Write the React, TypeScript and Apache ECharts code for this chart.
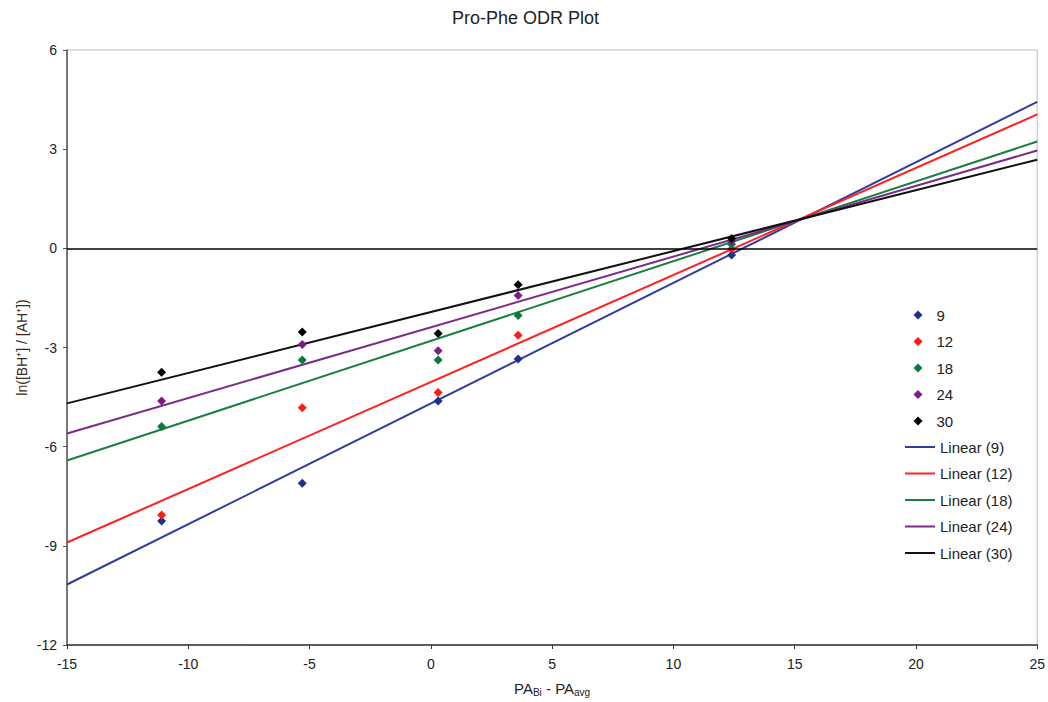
import React, { useEffect, useRef } from "react";
import * as echarts from "echarts";

// Measured points: x positions shared by every temperature series
const X_VALUES = [-11.1, -5.3, 0.3, 3.6, 12.4];

const SERIES_NAMES = ["9", "12", "18", "24", "30"];
const S9 = [-8.25, -7.11, -4.62, -3.35, -0.2];
const S12 = [-8.07, -4.82, -4.36, -2.63, -0.02];
const S18 = [-5.39, -3.38, -3.38, -2.03, 0.12];
const S24 = [-4.62, -2.91, -3.1, -1.43, 0.22];
const S30 = [-3.75, -2.53, -2.58, -1.1, 0.3];

// Linear trend lines, given by their values at the ends of the x range
const TREND_X = [-15, 25];
const T9 = [-10.17, 4.43];
const T12 = [-8.9, 4.05];
const T18 = [-6.42, 3.23];
const T24 = [-5.6, 2.96];
const T30 = [-4.69, 2.68];

const X_TICKS = { min: -15, max: 25, interval: 5 };
const Y_TICKS = { min: -12, max: 6, interval: 3 };

const POINT_COLORS = ["#1f2f8f", "#ff1a1a", "#0a7a3c", "#7a1f82", "#000000"];
const LINE_COLORS = ["#2f3e9e", "#ff2020", "#1a7f40", "#7b2a8a", "#111111"];

const FONT = "Liberation Sans, Arial, sans-serif";

export default function App() {
  const ref = useRef<HTMLDivElement>(null);

  useEffect(() => {
    document.body.style.margin = "0";
    const chart = echarts.init(ref.current!, null, { renderer: "svg" });

    const pointSets = [S9, S12, S18, S24, S30];
    const trendSets = [T9, T12, T18, T24, T30];

    const lineSeries = SERIES_NAMES.map((n, k) => ({
      type: "line" as const,
      name: `Linear (${n})`,
      data: TREND_X.map((x, i) => [x, trendSets[k][i]]),
      symbol: "none",
      showSymbol: false,
      lineStyle: { color: LINE_COLORS[k], width: 2 },
      itemStyle: { color: LINE_COLORS[k] },
      z: 2,
      ...(k === 0
        ? {
            markLine: {
              silent: true,
              symbol: ["none", "none"],
              label: { show: false },
              lineStyle: { color: "#000", width: 1.5, type: "solid" },
              data: [{ yAxis: 0 }],
            },
          }
        : {}),
    }));

    const scatterSeries = SERIES_NAMES.map((n, k) => ({
      type: "scatter" as const,
      name: n,
      data: X_VALUES.map((x, i) => [x, pointSets[k][i]]),
      symbol: "diamond",
      symbolSize: 9,
      itemStyle: { color: POINT_COLORS[k], opacity: 1 },
      z: 3,
    }));

    chart.setOption({
      animation: false,
      backgroundColor: "#ffffff",
      textStyle: { fontFamily: FONT },
      title: {
        text: "Pro-Phe ODR Plot",
        left: 452,
        top: 9,
        padding: 0,
        textStyle: { fontFamily: FONT, fontSize: 18, fontWeight: "normal", color: "#222" },
      },
      grid: {
        left: 67,
        right: 10,
        top: 50,
        bottom: 54,
        show: true,
        borderColor: "#bdbdbd",
        borderWidth: 1,
      },
      legend: [
        {
          data: SERIES_NAMES,
          orient: "vertical",
          left: 913.5,
          top: 307.5,
          padding: 0,
          itemWidth: 9,
          itemHeight: 9,
          itemGap: 11.5,
          selectedMode: false,
          textStyle: { fontFamily: FONT, fontSize: 15, color: "#222", padding: [0, 0, 0, 9] },
        },
        {
          data: SERIES_NAMES.map((n) => `Linear (${n})`),
          orient: "vertical",
          left: 905,
          top: 439.5,
          padding: 0,
          icon: "rect",
          itemWidth: 30,
          itemHeight: 2,
          itemGap: 11.5,
          selectedMode: false,
          textStyle: { fontFamily: FONT, fontSize: 15, color: "#222" },
        },
      ],
      xAxis: {
        type: "value",
        ...X_TICKS,
        position: "bottom",
        axisLine: { onZero: false, lineStyle: { color: "#333", width: 1.5 } },
        axisTick: { show: true, length: 4, lineStyle: { color: "#333" } },
        splitLine: { show: false },
        axisLabel: { fontFamily: FONT, fontSize: 14, color: "#222", margin: 12 },
        name: "{m|PA}{s|Bi}{m| - PA}{s|avg}",
        nameLocation: "middle",
        nameMoveOverlap: false,
        nameGap: 36,
        nameTextStyle: {
          rich: {
            m: { fontFamily: FONT, fontSize: 15, color: "#222", lineHeight: 16, verticalAlign: "top" },
            s: {
              fontFamily: FONT,
              fontSize: 10,
              color: "#222",
              lineHeight: 10,
              verticalAlign: "bottom",
              padding: [8, 0, 0, 0],
            },
          },
        },
      },
      yAxis: {
        type: "value",
        ...Y_TICKS,
        axisLine: { show: true, onZero: false, lineStyle: { color: "#555", width: 1.5 } },
        axisTick: { show: true, length: 4, lineStyle: { color: "#555" } },
        splitLine: { show: false },
        axisLabel: { fontFamily: FONT, fontSize: 14, color: "#222", margin: 10 },
        name: "ln([BH⁺] / [AH⁺])",
        nameLocation: "middle",
        nameMoveOverlap: false,
        nameGap: 38,
        nameTextStyle: { fontFamily: FONT, fontSize: 14, color: "#3a2a1a" },
      },
      series: [...lineSeries, ...scatterSeries],
    });

    return () => chart.dispose();
  }, []);

  return <div ref={ref} style={{ width: 1048, height: 702, background: "#fff" }} />;
}
